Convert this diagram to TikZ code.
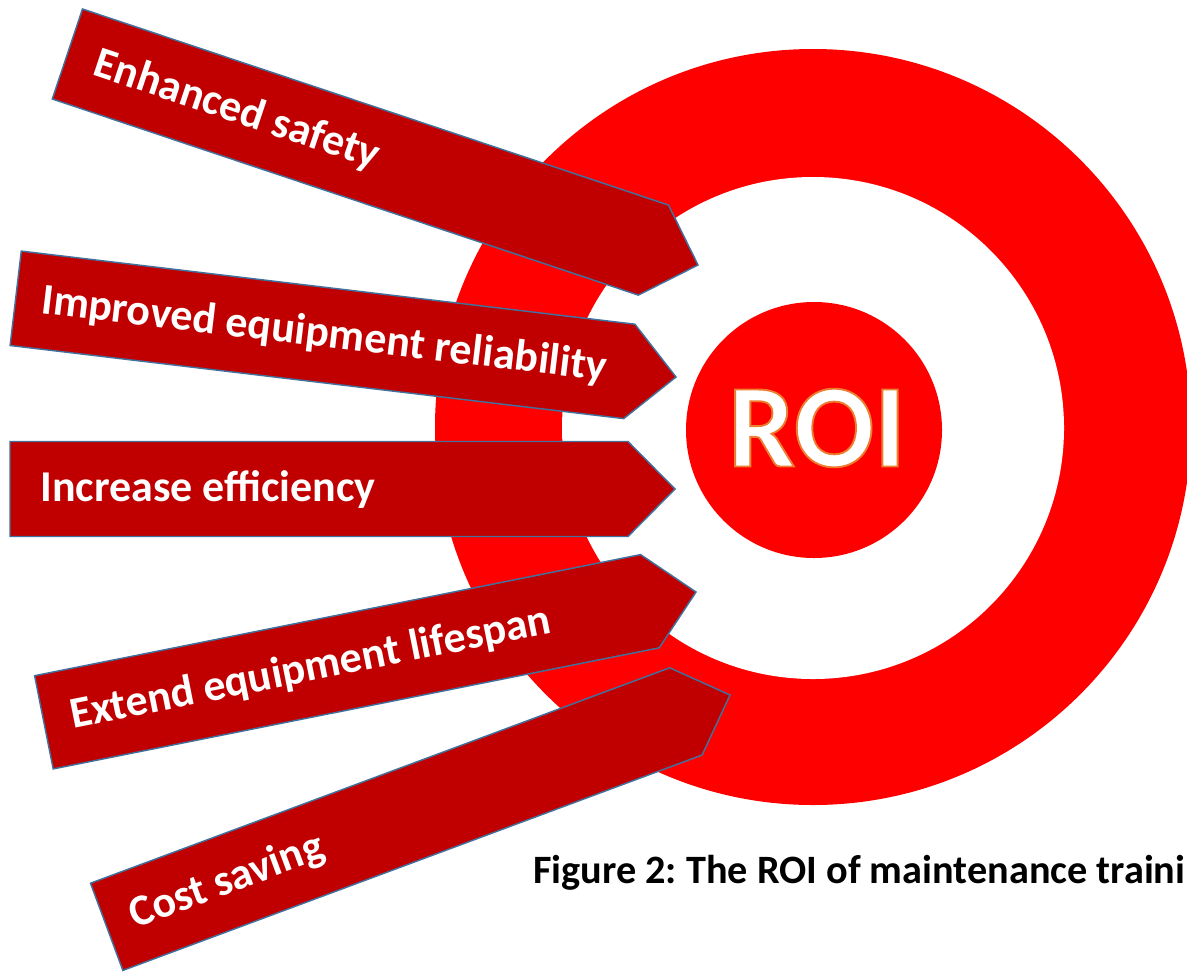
\documentclass[tikz,border=0pt]{standalone}
\usepackage{fontspec}
\newfontfamily\calibri{Carlito}
\usepackage{tikz}
\frenchspacing
% white letters with an orange rim (fill + stroke render mode)
\newcommand\rimtext[1]{\special{pdf:literal direct 2 Tr 1.4 w 0.929 0.490 0.192 RG}#1\special{pdf:literal direct 0 Tr}}

\begin{document}
\begin{tikzpicture}[x=0.75pt,y=0.75pt,yscale=-1,xscale=1,
  benefit/.style={draw={rgb, 255:red, 65; green, 113; blue, 156}, fill={rgb, 255:red, 192; green, 0; blue, 0}, line width=1.1pt, line join=miter},
  benefit text/.style={anchor=west, inner sep=0pt, text=white, font=\calibri\bfseries\fontsize{33}{39}\selectfont}]
\useasboundingbox (0,0) rectangle (1187,975);

%Shape: Circle [outer ring]
\fill [color={rgb, 255:red, 255; green, 0; blue, 0}] (813,427) circle (378);
%Shape: Circle [white gap]
\fill [color=white] (813,428) circle (251);
%Shape: Circle [centre disc]
\fill [color={rgb, 255:red, 255; green, 0; blue, 0}] (814,430) circle (128);

%Shape: Pentagon [safety]
\draw [benefit] (82.5,9) -- (668.5,205.1) -- (698,265) -- (638.3,295.1) -- (52.3,99) -- cycle ;
%Shape: Pentagon [reliability]
\draw [benefit] (21.3,251.1) -- (634.9,324.2) -- (676,377) -- (623.7,418.6) -- (10.1,345.5) -- cycle ;
%Shape: Pentagon [efficiency]
\draw [benefit] (10,441.5) -- (628,441.5) -- (675,489) -- (628,536.5) -- (10,536.5) -- cycle ;
%Shape: Pentagon [lifespan]
\draw [benefit] (34.6,675.7) -- (640.6,554.6) -- (696,592) -- (659.2,647.8) -- (53.2,768.9) -- cycle ;
%Shape: Pentagon [saving]
\draw [benefit] (90.5,883.2) -- (669.7,667.8) -- (730,695) -- (702.1,755) -- (122.9,970.4) -- cycle ;

% Text Node
\draw (94.9,63.2) node [benefit text, rotate=-18.5] (safety) {Enhanced safety};
% Text Node
\draw (41.5,301.4) node [benefit text, rotate=-6.8] (reliability) {Improved equipment reliability};
% Text Node
\draw (40,489) node [benefit text] (efficiency) {Increase efficiency};
% Text Node
\draw (70.4,717) node [benefit text, rotate=11.3] (lifespan) {Extend equipment lifespan};
% Text Node
\draw (131.1,917.7) node [benefit text, rotate=20.4] (saving) {Cost saving};

% Text Node
\draw (817,428) node [inner sep=0pt, text=white, font=\calibri\bfseries\fontsize{89}{100}\selectfont] (roi) {\rimtext{ROI}};

% Text Node
\draw (533,883) node [anchor=base west, inner sep=0pt, font=\calibri\bfseries\fontsize{30.2}{36}\selectfont] (caption) {Figure 2: The ROI of maintenance traini};

\end{tikzpicture}
\end{document}
